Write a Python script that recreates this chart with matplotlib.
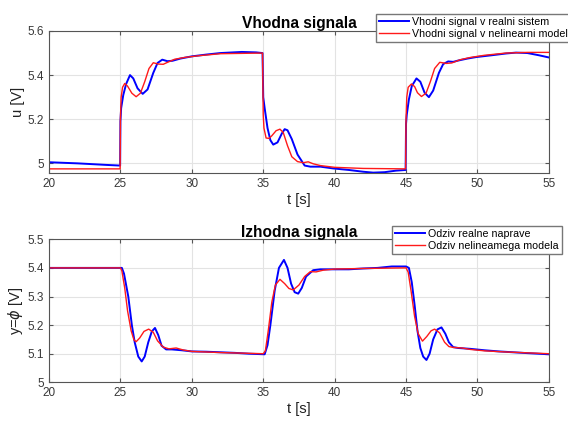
import numpy as np
import matplotlib
matplotlib.use("Agg")
import matplotlib.pyplot as plt

plt.rcParams['font.family'] = ['Liberation Sans', 'DejaVu Sans']
plt.rcParams['mathtext.fontset'] = 'dejavusans'

# --- vhodni signal (u) ---
t_u_real = [20, 22, 24, 24.98, 25.0, 25.05, 25.2, 25.4, 25.67, 25.9,
            26.2, 26.56, 26.9, 27.3, 27.6, 27.93, 28.3, 28.65, 29.2, 30,
            31, 32, 33.5, 34.5, 34.95, 35.0, 35.1, 35.3, 35.5, 35.7,
            36.0, 36.3, 36.5, 36.7, 37.0, 37.4, 37.9, 38.3, 39.0, 39.9,
            41, 42, 42.7, 43.5, 44.3, 44.97, 45.0, 45.05, 45.2, 45.4,
            45.73, 46.0, 46.3, 46.6, 46.9, 47.3, 47.6, 47.95, 48.3, 48.65,
            49.3, 49.93, 51, 52, 52.7, 53.5, 54.3, 55]
u_real = [5.005, 5.0, 4.993, 4.99, 5.19, 5.25, 5.31, 5.36, 5.40, 5.385,
          5.34, 5.315, 5.335, 5.41, 5.455, 5.47, 5.463, 5.465, 5.475, 5.485,
          5.493, 5.5, 5.505, 5.503, 5.5, 5.30, 5.25, 5.16, 5.105, 5.085,
          5.095, 5.135, 5.155, 5.15, 5.11, 5.04, 4.99, 4.985, 4.985, 4.977,
          4.97, 4.962, 4.958, 4.96, 4.967, 4.97, 5.18, 5.22, 5.29, 5.35,
          5.385, 5.37, 5.32, 5.30, 5.33, 5.41, 5.45, 5.462, 5.46, 5.466,
          5.475, 5.482, 5.49, 5.498, 5.502, 5.5, 5.49, 5.48]

t_u_model = [20, 24.98, 25.0, 25.05, 25.15, 25.3, 25.5, 25.8, 26.1, 26.4,
             26.7, 27.0, 27.3, 27.65, 28.0, 28.3, 28.8, 29.5, 30.5, 32,
             34.95, 35.0, 35.05, 35.2, 35.4, 35.6, 35.9, 36.17, 36.4, 36.7,
             37.0, 37.4, 37.8, 38.15, 38.5, 39, 40, 42, 44.97, 45.0,
             45.05, 45.15, 45.38, 45.6, 45.8, 46.08, 46.4, 46.7, 47.0, 47.36,
             47.83, 48.2, 48.8, 49.5, 50.5, 52, 53.5, 55]
u_model = [4.975, 4.975, 5.2, 5.3, 5.345, 5.362, 5.35, 5.318, 5.302, 5.318,
           5.37, 5.43, 5.456, 5.45, 5.449, 5.458, 5.472, 5.48, 5.488, 5.497,
           5.5, 5.22, 5.16, 5.115, 5.113, 5.125, 5.148, 5.155, 5.14, 5.08,
           5.03, 5.008, 5.003, 5.007, 4.998, 4.99, 4.982, 4.977, 4.975, 5.2,
           5.3, 5.345, 5.36, 5.348, 5.32, 5.303, 5.318, 5.37, 5.43, 5.458,
           5.453, 5.455, 5.47, 5.48, 5.49, 5.5, 5.503, 5.503]

# --- izhodni signal (y) ---
t_y_real = [20, 24.9, 25.1, 25.25, 25.4, 25.55, 25.8, 26.0, 26.25, 26.49,
            26.7, 26.95, 27.2, 27.42, 27.65, 27.88, 28.2, 28.6, 29.3, 30,
            31, 32, 33, 34, 35.1, 35.3, 35.5, 35.8, 36.1, 36.45,
            36.7, 36.95, 37.2, 37.45, 37.7, 38.0, 38.5, 39, 40, 41,
            42, 43, 44, 45, 45.2, 45.4, 45.6, 45.8, 46.0, 46.2,
            46.43, 46.65, 46.9, 47.2, 47.48, 47.75, 48.0, 48.3, 48.65, 49.5,
            50.5, 51.5, 52.5, 53.5, 55]
y_real = [5.4, 5.4, 5.4, 5.38, 5.34, 5.3, 5.2, 5.14, 5.09, 5.073,
          5.09, 5.14, 5.178, 5.19, 5.165, 5.128, 5.115, 5.115, 5.112, 5.108,
          5.107, 5.105, 5.103, 5.1, 5.098, 5.13, 5.2, 5.32, 5.4, 5.428,
          5.4, 5.345, 5.315, 5.31, 5.33, 5.37, 5.392, 5.395, 5.395, 5.395,
          5.398, 5.4, 5.405, 5.405, 5.4, 5.35, 5.27, 5.18, 5.12, 5.09,
          5.078, 5.1, 5.15, 5.185, 5.192, 5.17, 5.14, 5.123, 5.12, 5.117,
          5.112, 5.108, 5.105, 5.102, 5.098]

t_y_model = [20, 25.0, 25.1, 25.3, 25.5, 25.75, 25.95, 26.1, 26.35, 26.65,
             26.98, 27.3, 27.6, 28.0, 28.4, 28.9, 29.4, 30, 32, 35.0,
             35.15, 35.35, 35.6, 35.85, 36.17, 36.5, 36.8, 37.1, 37.5, 37.9,
             38.3, 38.7, 39.2, 40, 42, 45.0, 45.15, 45.35, 45.6, 45.85,
             46.15, 46.45, 46.75, 47.0, 47.35, 47.7, 48.0, 48.3, 48.9, 49.5,
             50.5, 52, 55]
y_model = [5.4, 5.4, 5.39, 5.33, 5.25, 5.18, 5.148, 5.142, 5.155, 5.178,
           5.186, 5.175, 5.145, 5.123, 5.117, 5.12, 5.113, 5.108, 5.104, 5.1,
           5.11, 5.18, 5.28, 5.34, 5.36, 5.345, 5.328, 5.323, 5.34, 5.37,
           5.387, 5.386, 5.392, 5.396, 5.398, 5.4, 5.385, 5.32, 5.23, 5.17,
           5.144, 5.16, 5.18, 5.186, 5.173, 5.14, 5.125, 5.122, 5.12, 5.115,
           5.11, 5.106, 5.1]

fig = plt.figure(figsize=(5.68, 4.21), dpi=100)
ax1 = fig.add_axes([0.0863, 0.5884, 0.880, 0.338])
ax2 = fig.add_axes([0.0863, 0.0919, 0.880, 0.3397])

def style(ax):
    ax.grid(True, color='#e3e3e3', linewidth=0.8)
    ax.set_axisbelow(True)
    for s in ax.spines.values():
        s.set_color('#555555')
        s.set_linewidth(0.8)
    ax.tick_params(direction='in', length=3, colors='#555555',
                   labelcolor='#383838', labelsize=8.5, top=True, right=True)
    ax.set_xlim(20, 55)
    ax.set_xticks(np.arange(20, 56, 5))
    ax.set_xlabel('t [s]', fontsize=10.5, color='#222222', labelpad=2)

leg_kw = dict(loc='upper left', bbox_transform=fig.transFigure,
              fontsize=7.7, fancybox=False, edgecolor='#777777', framealpha=1,
              handlelength=2.8, handletextpad=0.3, borderpad=0.3, labelspacing=0.15,
              borderaxespad=0)

ax1.plot(t_u_real, u_real, color='#0000ff', lw=1.4, label='Vhodni signal v realni sistem')
ax1.plot(t_u_model, u_model, color='#ff1a1a', lw=1.0, label='Vhodni signal v nelinearni model')
style(ax1)
ax1.set_ylim(4.955, 5.6)
ax1.set_yticks([5, 5.2, 5.4, 5.6])
ax1.set_yticklabels(['5', '5.2', '5.4', '5.6'])
ax1.set_ylabel('u [V]', fontsize=10.5, color='#222222', labelpad=2)
ax1.set_title('Vhodna signala', fontsize=11.2, fontweight='bold', pad=2)
ax1.legend(bbox_to_anchor=(376 / 568, 1 - 14 / 421), **leg_kw)

ax2.plot(t_y_real, y_real, color='#0000ff', lw=1.4, label='Odziv realne naprave')
ax2.plot(t_y_model, y_model, color='#ff1a1a', lw=1.0, label='Odziv nelineamega modela')
style(ax2)
ax2.set_ylim(5.0, 5.5)
ax2.set_yticks([5, 5.1, 5.2, 5.3, 5.4, 5.5])
ax2.set_yticklabels(['5', '5.1', '5.2', '5.3', '5.4', '5.5'])
ax2.set_ylabel(r'y=$\phi$ [V]', fontsize=10.5, color='#222222', labelpad=2)
ax2.set_title('Izhodna signala', fontsize=11.2, fontweight='bold', pad=2)
ax2.legend(bbox_to_anchor=(392 / 568, 1 - 226 / 421), **leg_kw)

fig.savefig('out.png', dpi=100)
